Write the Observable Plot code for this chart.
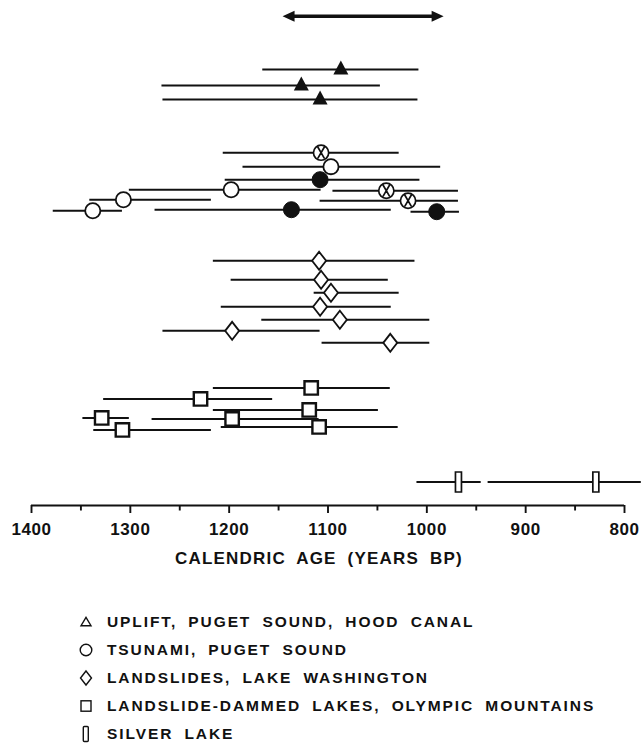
<!DOCTYPE html>
<html>
<head>
<meta charset="utf-8">
<script src="https://cdn.jsdelivr.net/npm/d3@7"></script>
<script src="https://cdn.jsdelivr.net/npm/@observablehq/plot@0.6"></script>
<style>
  body { margin: 0; background: #fff; }
  #wrap { position: relative; width: 641px; height: 749px; font-family: "Liberation Sans", Arial, sans-serif; color: #111; overflow: hidden; }
  #wrap > svg { position: absolute; left: 0; top: 0; }
  .ticklab text { letter-spacing: 0.6px; }
  #title { position: absolute; left: 175px; top: 549px; font-size: 17px; line-height: 20px; font-weight: bold; letter-spacing: 1.2px; word-spacing: 5px; white-space: nowrap; }
  .lg { position: absolute; left: 0; height: 28px; width: 641px; }
  .lg svg { position: absolute; left: 74px; top: 0; }
  .lg span { position: absolute; left: 107px; top: 0; font-size: 15.5px; line-height: 28px; font-weight: bold; letter-spacing: 1.9px; word-spacing: 5px; white-space: nowrap; }
</style>
</head>
<body>
<div id="wrap"><div id="title">CALENDRIC AGE (YEARS BP)</div></div>
<script>
// ---- data (ages in calendric years BP; row = vertical slot, top to bottom) ----
const xDomain = [1400, 800];
const axisRow = 50.45;
const majorTicks = [1400, 1300, 1200, 1100, 1000, 900, 800];
const minorTicks = [1350, 1250, 1150, 1050, 950, 850];

const overlap = [{from: 1146, to: 983, row: 1.57}];

const uplift = [
  {age: 1087, from: 1166, to: 1008, row: 6.9},
  {age: 1127, from: 1268, to: 1047, row: 8.5},
  {age: 1108, from: 1267, to: 1009, row: 9.9}
];

const tsunami = [
  {age: 1107, from: 1206, to: 1028, row: 15.2, kind: "crossed"},
  {age: 1097, from: 1186, to: 986,  row: 16.6, kind: "open"},
  {age: 1108, from: 1204, to: 1007, row: 17.9, kind: "filled"},
  {age: 1198, from: 1301, to: 1107, row: 18.9, kind: "open"},
  {age: 1041, from: 1095, to: 968,  row: 19.0, kind: "crossed"},
  {age: 1307, from: 1341, to: 1218, row: 19.9, kind: "open"},
  {age: 1019, from: 1108, to: 968,  row: 20.0, kind: "crossed"},
  {age: 1338, from: 1378, to: 1308, row: 21.0, kind: "open"},
  {age: 1137, from: 1275, to: 1036, row: 20.9, kind: "filled"},
  {age: 990,  from: 1016, to: 967,  row: 21.1, kind: "filled"}
];

const landslides = [
  {age: 1109, from: 1216, to: 1012, row: 26.0},
  {age: 1107, from: 1198, to: 1039, row: 27.9},
  {age: 1097, from: 1114, to: 1028, row: 29.2},
  {age: 1108, from: 1208, to: 1036, row: 30.6},
  {age: 1088, from: 1167, to: 997,  row: 31.9},
  {age: 1197, from: 1267, to: 1108, row: 33.0},
  {age: 1037, from: 1106, to: 997,  row: 34.2}
];

const dammed = [
  {age: 1117, from: 1216, to: 1037, row: 38.7},
  {age: 1229, from: 1327, to: 1156, row: 39.8},
  {age: 1119, from: 1216, to: 1049, row: 40.9},
  {age: 1329, from: 1348, to: 1301, row: 41.7},
  {age: 1197, from: 1278, to: 1109, row: 41.8},
  {age: 1109, from: 1208, to: 1029, row: 42.6},
  {age: 1308, from: 1337, to: 1218, row: 42.9}
];

const silver = [
  {age: 968, from: 1010, to: 945, row: 48.1},
  {age: 829, from: 938,  to: 783, row: 48.1}
];

const legendLabels = [
  "UPLIFT, PUGET SOUND, HOOD CANAL",
  "TSUNAMI, PUGET SOUND",
  "LANDSLIDES, LAKE WASHINGTON",
  "LANDSLIDE-DAMMED LAKES, OLYMPIC MOUNTAINS",
  "SILVER LAKE"
];
const legendSymbols = ["triangle", "circle", "diamond", "square", "bar"];

// ---- custom symbols ----
const triSym = {draw(c) { c.moveTo(0, -9); c.lineTo(7.5, 5); c.lineTo(-7.5, 5); c.closePath(); }};
const crossSym = {draw(c) { const r = 7.6; c.moveTo(r, 0); c.arc(0, 0, r, 0, 2 * Math.PI); c.closePath();
  c.moveTo(-3.3, -5.7); c.lineTo(3.3, 5.7); c.moveTo(3.3, -5.7); c.lineTo(-3.3, 5.7); }};
const diaSym = {draw(c) { c.moveTo(0, -9); c.lineTo(7, 0); c.lineTo(0, 9); c.lineTo(-7, 0); c.closePath(); }};
const sqSym = {draw(c) { c.rect(-6.7, -6.7, 13.4, 13.4); }};
const barSym = {draw(c) { c.rect(-3, -10, 6, 20); }};
const headL = {draw(c) { c.moveTo(0, 0); c.lineTo(12, -5.5); c.lineTo(12, 5.5); c.closePath(); }};
const headR = {draw(c) { c.moveTo(0, 0); c.lineTo(-12, -5.5); c.lineTo(-12, 5.5); c.closePath(); }};

const lineOpts = {y: "row", x1: "from", x2: "to", stroke: "#111", strokeWidth: 2};
const allRanges = [...uplift, ...tsunami, ...landslides, ...dammed, ...silver];

const chart = Plot.plot({
  width: 641,
  height: 545,
  marginTop: 0,
  marginBottom: 40,
  marginLeft: 31,
  marginRight: 17,
  style: {background: "transparent", color: "#111", fontFamily: "Liberation Sans, Arial, sans-serif"},
  x: {domain: xDomain, axis: null},
  y: {domain: [0, axisRow], reverse: true, axis: null},
  marks: [
    Plot.ruleY([axisRow], {x1: xDomain[0], x2: xDomain[1], stroke: "#111", strokeWidth: 1.9}),
    Plot.axisX({ticks: majorTicks, tickSize: 8, tickPadding: 9, tickFormat: d => String(d), label: null,
      fontSize: 17, fontWeight: "bold", strokeWidth: 1.9, className: "ticklab"}),
    Plot.axisX({ticks: minorTicks, tickSize: 5.5, tickFormat: () => "", label: null, strokeWidth: 1.9}),
    // overlap arrow
    Plot.ruleY(overlap, {y: "row", x1: "from", x2: "to", stroke: "#111", strokeWidth: 3.5, insetLeft: 8, insetRight: 8}),
    Plot.dot(overlap, {x: "from", y: "row", symbol: headL, fill: "#111", stroke: null}),
    Plot.dot(overlap, {x: "to", y: "row", symbol: headR, fill: "#111", stroke: null}),
    // error ranges
    Plot.ruleY(allRanges, lineOpts),
    // markers
    Plot.dot(uplift, {x: "age", y: "row", symbol: triSym, fill: "#111", stroke: null}),
    Plot.dot(tsunami.filter(d => d.kind === "open"), {x: "age", y: "row", r: 7.6, fill: "white", stroke: "#111", strokeWidth: 1.8}),
    Plot.dot(tsunami.filter(d => d.kind === "filled"), {x: "age", y: "row", r: 8, fill: "#111", stroke: "#111", strokeWidth: 1}),
    Plot.dot(tsunami.filter(d => d.kind === "crossed"), {x: "age", y: "row", symbol: crossSym, fill: "white", stroke: "#111", strokeWidth: 1.7}),
    Plot.dot(landslides, {x: "age", y: "row", symbol: diaSym, fill: "white", stroke: "#111", strokeWidth: 1.8}),
    Plot.dot(dammed, {x: "age", y: "row", symbol: sqSym, fill: "white", stroke: "#111", strokeWidth: 2.4}),
    Plot.dot(silver, {x: "age", y: "row", symbol: barSym, fill: "white", stroke: "#111", strokeWidth: 1.7})
  ]
});
const wrap = document.getElementById("wrap");
wrap.insertBefore(chart, wrap.firstChild);

// ---- legend ----
const legendShapes = {
  triangle: '<polygon points="12,9.3 17,17.7 7,17.7" fill="none" stroke="#111" stroke-width="1.4"/>',
  circle: '<circle cx="12" cy="14" r="5.8" fill="none" stroke="#111" stroke-width="1.4"/>',
  diamond: '<polygon points="12,7 17.5,14 12,21 6.5,14" fill="none" stroke="#111" stroke-width="1.4"/>',
  square: '<rect x="7" y="8.8" width="10" height="10.4" fill="none" stroke="#111" stroke-width="1.4"/>',
  bar: '<rect x="9.3" y="6.5" width="5" height="15" rx="1" fill="none" stroke="#111" stroke-width="1.4"/>'
};
legendLabels.forEach((lab, i) => {
  const row = document.createElement("div");
  row.className = "lg";
  row.style.top = (607.5 + i * 28) + "px";
  row.innerHTML = `<svg width="24" height="28" viewBox="0 0 24 28">${legendShapes[legendSymbols[i]]}</svg><span>${lab}</span>`;
  wrap.appendChild(row);
});
</script>
</body>
</html>
